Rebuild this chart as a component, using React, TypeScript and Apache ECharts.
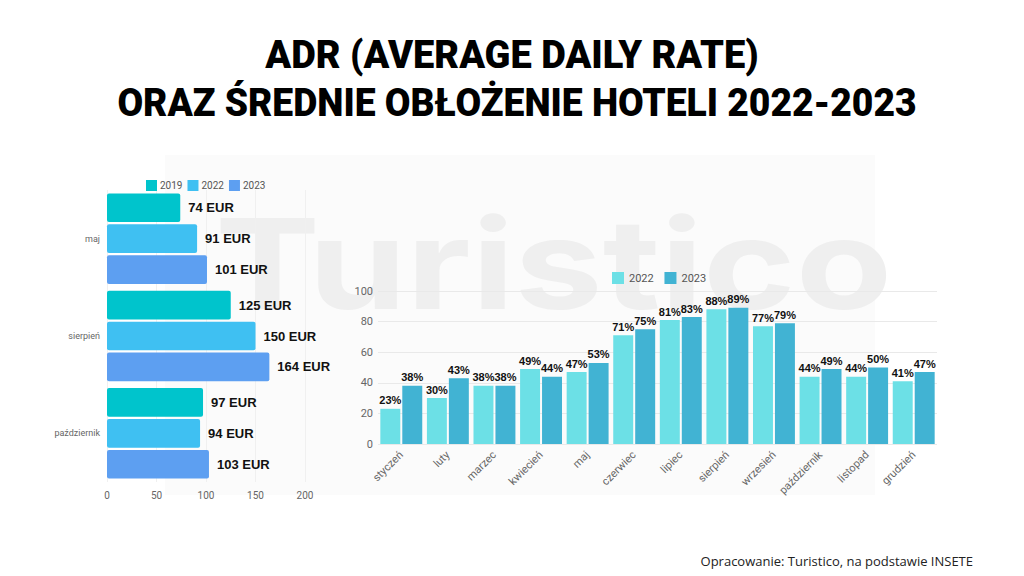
import React, { useEffect, useRef } from 'react';
import * as echarts from 'echarts';

const titleLine1 = 'ADR (AVERAGE DAILY RATE)';
const titleLine2 = 'ORAZ ŚREDNIE OBŁOŻENIE HOTELI 2022-2023';
const sourceNote = 'Opracowanie: Turistico, na podstawie INSETE';
const watermark = 'Turistico';

const adrMonths = ['maj', 'sierpień', 'październik'];
const adr2019 = [74, 125, 97];
const adr2022 = [91, 150, 94];
const adr2023 = [101, 164, 103];

const occMonths = ['styczeń', 'luty', 'marzec', 'kwiecień', 'maj', 'czerwiec', 'lipiec', 'sierpień', 'wrzesień', 'październik', 'listopad', 'grudzień'];
const occ2022 = [23, 30, 38, 49, 47, 71, 81, 88, 77, 44, 44, 41];
const occ2023 = [38, 43, 38, 44, 53, 75, 83, 89, 79, 49, 50, 47];

export default function App() {
  const ref = useRef<HTMLDivElement>(null);
  useEffect(() => {
    if (!ref.current) return;
    const chart = echarts.init(ref.current, null, { renderer: 'svg' });
    const axisLabelStyle = { color: '#666', fontFamily: 'Roboto', fontSize: 10 };
    const adrLabel = (v: any) => `${v.value} EUR`;
    const occLabel = (v: any) => `${v.value}%`;
    const leftBar = (name: string, data: number[], color: string) => ({
      name,
      type: 'bar',
      xAxisIndex: 0,
      yAxisIndex: 0,
      data,
      barCategoryGap: '7%',
      barGap: '8%',
      itemStyle: { color, borderRadius: 2 },
      label: {
        show: true,
        position: 'right',
        distance: 8,
        formatter: adrLabel,
        color: '#111',
        fontFamily: 'Liberation Sans',
        fontWeight: 'bold',
        fontSize: 13,
      },
    });
    const rightBar = (name: string, data: number[], color: string) => ({
      name,
      type: 'bar',
      xAxisIndex: 1,
      yAxisIndex: 1,
      data,
      barCategoryGap: '10%',
      barGap: '10%',
      itemStyle: { color },
      label: {
        show: true,
        position: 'top',
        distance: 3,
        formatter: occLabel,
        color: '#111',
        fontFamily: 'Liberation Sans',
        fontWeight: 'bold',
        fontSize: 11,
      },
    });
    chart.setOption({
      animation: false,
      backgroundColor: '#ffffff',
      graphic: [
        { type: 'rect', z: -10, shape: { x: 165, y: 155, width: 710, height: 340 }, style: { fill: '#fbfbfb' } },
        {
          type: 'text', z: -5, x: 215, y: 263, scaleX: 1.26,
          style: { text: watermark, fontFamily: 'Inter', fontWeight: 700, fontSize: 125, fill: '#efefef', textVerticalAlign: 'middle', textAlign: 'left' },
        },
        {
          type: 'text', x: 512, y: 55,
          style: { text: titleLine1, fontFamily: 'Roboto', fontWeight: 900, fontSize: 38, fill: '#000', textAlign: 'center', textVerticalAlign: 'middle' },
        },
        {
          type: 'text', x: 517, y: 103, scaleX: 0.98,
          style: { text: titleLine2, fontFamily: 'Roboto', fontWeight: 900, fontSize: 38, fill: '#000', textAlign: 'center', textVerticalAlign: 'middle' },
        },
        {
          type: 'text', x: 973, y: 561,
          style: { text: sourceNote, fontFamily: 'Open Sans', fontSize: 13, fill: '#222', textAlign: 'right', textVerticalAlign: 'middle' },
        },
      ],
      legend: [
        {
          data: ['2019', '2022', '2023'].map((n) => ({ name: n })),
          left: 141, top: 175, itemWidth: 11, itemHeight: 11, itemGap: 5,
          icon: 'rect',
          textStyle: { color: '#555', fontFamily: 'Roboto', fontSize: 10, padding: [0, 0, 0, -2] },
        },
        {
          data: [{ name: '2022 ' }, { name: '2023 ' }],
          left: 607, top: 267, itemWidth: 12, itemHeight: 12, itemGap: 8,
          icon: 'rect',
          textStyle: { color: '#555', fontFamily: 'Roboto', fontSize: 11 },
        },
      ],
      grid: [
        { left: 107, top: 190, width: 198, height: 292 },
        { left: 378, top: 291, width: 559, height: 153 },
      ],
      xAxis: [
        {
          type: 'value', gridIndex: 0, min: 0, max: 200, interval: 50,
          axisLine: { show: false }, axisTick: { show: false },
          splitLine: { lineStyle: { color: '#f0f0f0' } },
          axisLabel: { ...axisLabelStyle, margin: 8 },
        },
        {
          type: 'category', gridIndex: 1, data: occMonths,
          axisLine: { show: false }, axisTick: { show: false },
          axisLabel: { ...axisLabelStyle, fontSize: 11, rotate: 45, margin: 9, interval: 0 },
        },
      ],
      yAxis: [
        {
          type: 'category', gridIndex: 0, data: adrMonths, inverse: true,
          axisLine: { show: false }, axisTick: { show: false },
          axisLabel: { ...axisLabelStyle, fontSize: 9, margin: 7 },
        },
        {
          type: 'value', gridIndex: 1, min: 0, max: 100, interval: 20,
          axisLine: { show: false }, axisTick: { show: false },
          splitLine: { lineStyle: { color: '#e9e9e9' } },
          axisLabel: { ...axisLabelStyle, fontSize: 11, margin: 5 },
        },
      ],
      series: [
        leftBar('2019', adr2019, '#00c4cc'),
        leftBar('2022', adr2022, '#3fc0f2'),
        leftBar('2023', adr2023, '#5d9ff1'),
        rightBar('2022 ', occ2022, '#6ce0e6'),
        rightBar('2023 ', occ2023, '#41b3d3'),
      ],
    });
    return () => chart.dispose();
  }, []);
  return <div ref={ref} style={{ position: 'fixed', left: 0, top: 0, width: 1024, height: 576 }} />;
}
